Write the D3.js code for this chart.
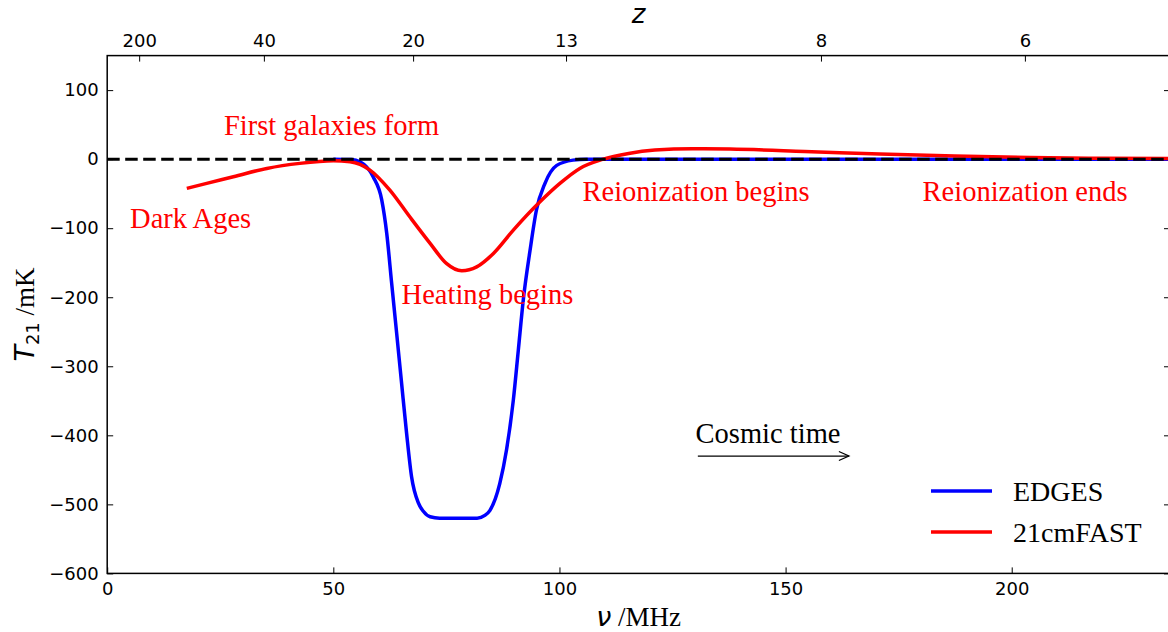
<!DOCTYPE html>
<html>
<head>
<meta charset="utf-8">
<script src="https://cdn.jsdelivr.net/npm/d3@7"></script>
<style>
  body { margin: 0; background: #fff; }
  .tick text { font-family: "DejaVu Sans", sans-serif; font-size: 18px; fill: #000; }
  .tick line { stroke: #000; stroke-width: 1; }
  .note { font-family: "Liberation Serif", "Times New Roman", serif; font-size: 28.5px; fill: red; }
</style>
</head>
<body>
<svg width="1168" height="632"></svg>
<script>
// EDGES absorption profile
const edgesFreq = [50, 54, 55.9, 58.8, 60.7, 61.8, 62.9, 64.0, 65.1, 66.2, 67.3, 68.8, 69.9, 71.4, 73.5, 78, 81.8,
                   83.5, 84.6, 86.8, 88.3, 89.8, 90.9, 92.0, 93.5, 94.9, 96.8, 99.4, 103.0, 106, 150, 235];
const edgesTemp = [0, -0.5, -3.8, -25.5, -59, -107, -180, -252, -325, -397, -460, -498, -510, -518, -520, -520, -520,
                   -516, -509, -470, -421, -349, -277, -204, -132, -74, -35, -9, -1.4, 0, 0, 0];

// 21cmFAST model
const fastFreq = [17.6, 22, 27.9, 35.3, 42.6, 50.0, 53.7, 58.1, 62.5, 66.9, 71.4, 75.0, 78.4, 81.7, 85.4,
                  89.8, 95.7, 100.1, 104.5, 109.5, 115.3, 121.1, 129.4, 137.7, 154.2, 170.8, 187.4, 204, 220, 235];
const fastTemp = [-42.3, -35, -25.5, -13.4, -6.1, -2.4, -3.8, -15.8, -44.8, -83.5, -122, -151, -161.7, -156, -136.5,
                  -102.7, -61.7, -35.1, -13.4, -0.4, 8.3, 13.1, 15, 14.6, 11.2, 7.3, 4.4, 2.5, 1.3, 0.8];

const xTicks = [0, 50, 100, 150, 200];
const yTicks = [-600, -500, -400, -300, -200, -100, 0, 100];
const zTicks = [200, 40, 20, 13, 8, 6];

const svg = d3.select('svg');
const margin = {left: 107.2, right: 1170, top: 55.6, bottom: 573.4};

const x = d3.scaleLinear().domain([0, 235]).range([margin.left, margin.right]);
const y = d3.scaleLinear().domain([-600, 150]).range([margin.bottom, margin.top]);

// 21 cm rest frequency, converts redshift to observed frequency
const nu21 = 1420.4;

//------------------------------ axes ------------------------------//
svg.append('g')
    .attr('transform', `translate(0,${margin.bottom})`)
    .call(d3.axisBottom(x).tickValues(xTicks).tickSizeInner(-6).tickSizeOuter(0).tickPadding(9))
    .call(g => g.select('.domain').remove());

svg.append('g')
    .attr('transform', `translate(${margin.left},0)`)
    .call(d3.axisLeft(y).tickValues(yTicks).tickSizeInner(-6).tickSizeOuter(0).tickPadding(8.5))
    .call(g => g.select('.domain').remove());

svg.append('g')
    .attr('transform', `translate(${margin.right},0)`)
    .call(d3.axisRight(y).tickValues(yTicks).tickSizeInner(-6).tickSizeOuter(0).tickFormat(''))
    .call(g => g.select('.domain').remove());

svg.append('g')
    .attr('transform', `translate(0,${margin.top})`)
    .call(d3.axisTop(x).tickValues(zTicks.map(z => nu21 / (1 + z))).tickSizeInner(-6).tickSizeOuter(0)
        .tickPadding(9).tickFormat((d, i) => zTicks[i]))
    .call(g => g.select('.domain').remove());

//------------------------------ curves ------------------------------//
const line = d3.line()
    .x(d => x(d[0]))
    .y(d => y(d[1]))
    .curve(d3.curveMonotoneX);

svg.append('path')
    .datum(edgesFreq.map((f, i) => [f, edgesTemp[i]]))
    .attr('d', line)
    .attr('fill', 'none')
    .attr('stroke', 'blue')
    .attr('stroke-width', 3.5);

svg.append('path')
    .datum(fastFreq.map((f, i) => [f, fastTemp[i]]))
    .attr('d', line)
    .attr('fill', 'none')
    .attr('stroke', 'red')
    .attr('stroke-width', 3.5);

svg.append('line')
    .attr('x1', x(0)).attr('x2', x(235))
    .attr('y1', y(0)).attr('y2', y(0))
    .attr('stroke', 'black')
    .attr('stroke-width', 3)
    .attr('stroke-dasharray', '12.5,5.5');

// frame
svg.append('rect')
    .attr('x', margin.left).attr('y', margin.top)
    .attr('width', margin.right - margin.left).attr('height', margin.bottom - margin.top)
    .attr('fill', 'none')
    .attr('stroke', 'black')
    .attr('stroke-width', 1.5);

//------------------------------ annotations ------------------------------//
const note = (txt, nu, t) => svg.append('text').attr('class', 'note')
    .attr('x', x(nu)).attr('y', y(t)).text(txt);

note('First galaxies form', 25.8, 34.8);
note('Dark Ages', 5.06, -100.3);
note('Heating begins', 65.1, -209.2);
note('Reionization begins', 105.1, -60.3);
note('Reionization ends', 180.3, -60.3);
note('Cosmic time', 130.1, -410.7).style('fill', 'black');

// arrow
const ax1 = x(130.6), ax2 = x(164), ay = y(-430);
svg.append('line')
    .attr('x1', ax1).attr('x2', ax2).attr('y1', ay).attr('y2', ay)
    .attr('stroke', 'black').attr('stroke-width', 1.3);
svg.append('path')
    .attr('d', `M${ax2 - 10},${ay - 4.5}L${ax2},${ay}L${ax2 - 10},${ay + 4.5}`)
    .attr('fill', 'none').attr('stroke', 'black').attr('stroke-width', 1.3);

//------------------------------ legend ------------------------------//
const legend = [['EDGES', 'blue'], ['21cmFAST', 'red']];
legend.forEach((d, i) => {
    const ly = 491 + i * 41;
    svg.append('line')
        .attr('x1', 931).attr('x2', 992).attr('y1', ly).attr('y2', ly)
        .attr('stroke', d[1]).attr('stroke-width', 3.5);
    svg.append('text').attr('class', 'note')
        .attr('x', 1013).attr('y', ly + 10)
        .style('fill', 'black')
        .style('font-size', '28px')
        .text(d[0]);
});

//------------------------------ axis labels ------------------------------//
svg.append('text')
    .attr('x', (margin.left + margin.right) / 2).attr('y', 23)
    .attr('text-anchor', 'middle')
    .style('font-family', 'DejaVu Sans').style('font-style', 'italic').style('font-size', '26px')
    .text('z');

const xl = svg.append('text')
    .attr('x', (margin.left + margin.right) / 2).attr('y', 626)
    .attr('text-anchor', 'middle');
xl.append('tspan').style('font-family', 'DejaVu Sans').style('font-style', 'italic').style('font-size', '27px').text('ν');
xl.append('tspan').style('font-family', 'Liberation Serif').style('font-size', '27px').text(' /MHz');

const yl = svg.append('text')
    .attr('transform', 'translate(34,314.5) rotate(-90)')
    .attr('text-anchor', 'middle');
yl.append('tspan').style('font-family', 'DejaVu Sans').style('font-style', 'italic').style('font-size', '27px').text('T');
yl.append('tspan').style('font-family', 'DejaVu Sans').style('font-size', '18px').attr('dy', 5).text('21');
yl.append('tspan').style('font-family', 'Liberation Serif').style('font-size', '27px').attr('dy', -5).text(' /mK');
</script>
</body>
</html>
